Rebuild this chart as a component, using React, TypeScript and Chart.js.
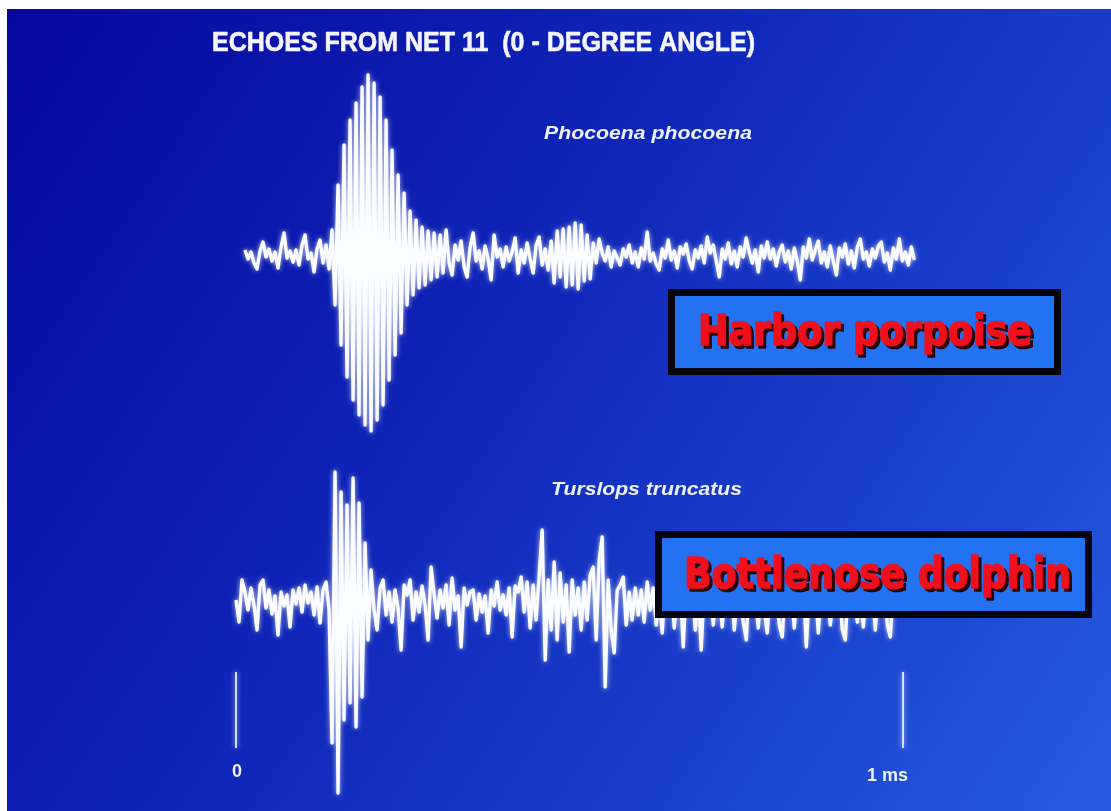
import React, { useEffect, useRef } from "react";
import { Chart, registerables } from "chart.js";

Chart.register(...registerables);

// ---- data (time in ms, amplitude in relative units) ----
const SAMPLE_INTERVAL_MS = 0.0045;
const UPPER_START_MS = 0.0135;
const LOWER_START_MS = 0;

// Phocoena phocoena (harbor porpoise) echo
const UPPER_AMPLITUDE = [
  5, -4, 3, -8, -14, 4, 13, -2, 6, -6, 3, -13, 8, 22, -3, 4, -7, 5, -10, 10,
  20, -4, 2, -17, 6, 15, -8, 10, -14,
  25, -50, 70, -90, 110, -122, 135, -145, 152, -160, 168, -170, 180, -176, 172, -165,
  158, -150, 135, -125, 105, -100, 80, -78, 62, -50, 44, -40, 35, -33, 28, -30, 24, -25, 22, -22, 20,
  -18, 25, -8, -20, 10, -5, 14, -12, -22, 8, 22, -6, 4, -14, 9, -4, -25, 20, -2, 6,
  -12, 8, -6, 3, 17, -18, 5, -8, 12, -4, -18, 10, 18, -10, 6, -15, 14, -28, 24, -22,
  26, -32, 28, -30, 32, -34, 30, -26, 20, -24, 12,
  -8, 16, 2, -6, 8, -12, 4, -3, -10, 6, -2, 10, -8, 3, -12, 7, -4, 23, -6, 2,
  -9, -15, 6, -3, 15, -5, 4, -13, 8, 1, 11, -6, -14, 5, -3, 9, -8, 18, 2, 10,
  -6, -22, 6, -4, 12, -9, 4, -12, 8, -2, 17, 3, -8, 5, -17, 9, -3, 13, -4, 6,
  -11, 3, 10, -7, 4, -14, 7, -6, -25, 8, -3, 16, -5, 5, 14, -8, 3, -12, 9, -6,
  -20, 7, -2, 11, -9, 4, -13, 8, 16, -4, 3, -11, 6, -3, 9, 13, -7, 2, -15, 7,
  -4, 16, -6, 3, -10, 8, -5,
];

// Tursiops truncatus (bottlenose dolphin) echo
const LOWER_AMPLITUDE = [
  0, -22, 20, 8, -10, 12, -5, -30, 15, 20, -8, 10, -14, 4, -35, 8, -6, 5, -27, 10,
  -4, 12, -12, 15, -3, 8, -15, 13, -23, 10, 18, -10,
  -143, 128, -193, 108, -120, 95, -103, 122, -127, 97, -97, 57, -40,
  30, -10, -30, 12, 20, -15, 8, -22, 10, -8, -50, 15, 5, 20, -20, 8, -12, 14, -5, -40,
  33, 6, -18, 10, -8, 15, -25, 22, -10, 4, -47, 12, -5, 8, 10, -20, 6, -12, 4, -33,
  10, -6, 18, -10, 5, -15, 12, -37, 14, 8, 23, -12, 18, -28, 15, -20, 25, 70, -60, 20,
  -30, 38, -40, 27, -22, 15, -52, 20, -15, 12, -30, 18, -20, 25, 33, -40, 40, 63, -87, 20,
  -30, -53, 10, 15, 23, -25, 8, -20, 12, -15,
  10, -22, 18, -10, 12, -25, 8, -33, 15, -8, 20, -28, 6, 12, -47, 14, -12, 22, -30, 8,
  -50, 18, -10, 15, -25, 10, 4, -27, 16, -8, 20, -30, 6, 12, -22, -40, 18, -6, 10, -28,
  14, -10, -33, 20, -8, 12, -25, -37, 16, -6, 10, -28, 14, -12, 22, -47, 10, -8, 15, -33,
  12, -6, 18, -25, 8, -10, 14, -30, -40, 16, -8, 10, -22, 12, -27, 18, -6, 10, -30, 14,
  -8, 20, -25, -37, 12, -10, 6,
];

// scale bar (time markers) in lower-axis units
const SCALE_BAR_TIMES = [0, 1];
const SCALE_BAR_LABELS = ["0", "1 ms"];
const SCALE_BAR_TOP = -72;
const SCALE_BAR_BOTTOM = -148;

const TITLE = "ECHOES FROM NET 11  (0 - DEGREE ANGLE)";
const UPPER_SPECIES = "Phocoena phocoena";
const LOWER_SPECIES = "Turslops truncatus";
const UPPER_NAME = "Harbor porpoise";
const LOWER_NAME = "Bottlenose dolphin";

const W = 1111;
const H = 811;

function fitText(
  ctx: CanvasRenderingContext2D,
  text: string,
  x: number,
  y: number,
  width: number,
  font: string,
  color: string,
  shadow?: { color: string; dx: number; dy: number },
  strokeW = 0
) {
  ctx.save();
  ctx.font = font;
  ctx.textAlign = "left";
  ctx.textBaseline = "middle";
  ctx.lineJoin = "round";
  const w = ctx.measureText(text).width;
  const sx = width / w;
  if (shadow) {
    ctx.save();
    ctx.translate(x + shadow.dx, y + shadow.dy);
    ctx.scale(sx, 1);
    ctx.fillStyle = shadow.color;
    ctx.fillText(text, 0, 0);
    if (strokeW) {
      ctx.strokeStyle = shadow.color;
      ctx.lineWidth = strokeW;
      ctx.strokeText(text, 0, 0);
    }
    ctx.restore();
  }
  ctx.translate(x, y);
  ctx.scale(sx, 1);
  ctx.fillStyle = color;
  ctx.fillText(text, 0, 0);
  if (strokeW) {
    ctx.strokeStyle = color;
    ctx.lineWidth = strokeW;
    ctx.strokeText(text, 0, 0);
  }
  ctx.restore();
}

function drawBox(
  ctx: CanvasRenderingContext2D,
  x0: number,
  y0: number,
  x1: number,
  y1: number
) {
  ctx.save();
  ctx.fillStyle = "#050510";
  ctx.fillRect(x0, y0, x1 - x0, y1 - y0);
  ctx.fillStyle = "#2272f2";
  ctx.fillRect(x0 + 7, y0 + 7, x1 - x0 - 14, y1 - y0 - 14);
  ctx.restore();
}

const backgroundPlugin = {
  id: "slideBackground",
  beforeDraw(chart: any) {
    const ctx: CanvasRenderingContext2D = chart.ctx;
    ctx.save();
    ctx.fillStyle = "#ffffff";
    ctx.fillRect(0, 0, W, H);
    const g = ctx.createLinearGradient(0, 0, W, H * 0.9);
    g.addColorStop(0, "#07079c");
    g.addColorStop(0.45, "#0f26b8");
    g.addColorStop(0.8, "#1c45cf");
    g.addColorStop(1, "#2659de");
    ctx.fillStyle = g;
    ctx.fillRect(7, 9, W - 7, H - 9);
    ctx.restore();
  },
  beforeDatasetsDraw(chart: any) {
    const ctx: CanvasRenderingContext2D = chart.ctx;
    ctx.save();
    ctx.shadowColor = "rgba(230,240,255,0.8)";
    ctx.shadowBlur = 5;
  },
  afterDatasetsDraw(chart: any) {
    chart.ctx.restore();
  },
};

const annotationPlugin = {
  id: "slideText",
  afterDraw(chart: any) {
    const ctx: CanvasRenderingContext2D = chart.ctx;
    const xs = chart.scales.x;
    fitText(ctx, TITLE, 212, 44, 543, "bold 27px 'Liberation Sans Narrow', 'Liberation Sans', Arial, sans-serif", "#f4f6ff", undefined, 0.6);
    fitText(ctx, UPPER_SPECIES, 544, 134, 208, "italic bold 19px 'Liberation Sans', Arial, sans-serif", "#eef2ff");
    fitText(ctx, LOWER_SPECIES, 551, 490, 191, "italic bold 19px 'Liberation Sans', Arial, sans-serif", "#eef2ff");

    drawBox(ctx, 668, 289, 1061, 375);
    drawBox(ctx, 655, 531, 1092, 618);
    const shadow = { color: "#2a0006", dx: 3, dy: 3 };
    fitText(ctx, UPPER_NAME, 698, 334, 334, "bold 42px 'DejaVu Sans', sans-serif", "#f0101c", shadow, 1.6);
    fitText(ctx, LOWER_NAME, 684, 577, 387, "bold 42px 'DejaVu Sans', sans-serif", "#f0101c", shadow, 1.6);

    ctx.save();
    ctx.font = "bold 18px 'Liberation Sans', Arial, sans-serif";
    ctx.fillStyle = "#eef2ff";
    ctx.textBaseline = "middle";
    ctx.textAlign = "center";
    const p0 = xs.getPixelForValue(SCALE_BAR_TIMES[0]);
    ctx.fillText(SCALE_BAR_LABELS[0], p0 + 1, 772);
    const p1 = xs.getPixelForValue(SCALE_BAR_TIMES[1]);
    ctx.textAlign = "left";
    ctx.fillText(SCALE_BAR_LABELS[1], p1 - 36, 776);
    ctx.restore();
  },
};

export default function App() {
  const ref = useRef<HTMLCanvasElement | null>(null);

  useEffect(() => {
    if (!ref.current) return;
    const upper = UPPER_AMPLITUDE.map((v, i) => ({ x: UPPER_START_MS + i * SAMPLE_INTERVAL_MS, y: v }));
    const lower = LOWER_AMPLITUDE.map((v, i) => ({ x: LOWER_START_MS + i * SAMPLE_INTERVAL_MS, y: v }));
    const bar: any[] = [];
    SCALE_BAR_TIMES.forEach((t, i) => {
      bar.push({ x: t, y: SCALE_BAR_TOP });
      bar.push({ x: t, y: SCALE_BAR_BOTTOM });
      if (i < SCALE_BAR_TIMES.length - 1) bar.push({ x: (t + SCALE_BAR_TIMES[i + 1]) / 2, y: null });
    });

    const chart = new Chart(ref.current, {
      type: "line",
      data: {
        datasets: [
          {
            label: UPPER_SPECIES,
            data: upper,
            yAxisID: "yTop",
            borderColor: "#fbfcff",
            borderWidth: 3.4,
            pointRadius: 0,
            tension: 0,
            borderJoinStyle: "round",
          },
          {
            label: LOWER_SPECIES,
            data: lower,
            yAxisID: "yBottom",
            borderColor: "#fbfcff",
            borderWidth: 3.4,
            pointRadius: 0,
            tension: 0,
            borderJoinStyle: "round",
          },
          {
            label: "scale",
            data: bar,
            yAxisID: "yBottom",
            borderColor: "rgba(215,228,255,0.95)",
            borderWidth: 2,
            pointRadius: 0,
            spanGaps: false,
          },
        ],
      } as any,
      options: {
        animation: false,
        responsive: false,
        maintainAspectRatio: false,
        events: [],
        layout: { padding: 0 },
        plugins: { legend: { display: false }, tooltip: { enabled: false }, title: { display: false } },
        scales: {
          x: { type: "linear", min: -236 / 667, max: 875 / 667, display: false },
          yTop: { type: "linear", min: -556, max: 255, display: false },
          yBottom: { type: "linear", min: -211, max: 600, display: false },
        },
      },
      plugins: [backgroundPlugin, annotationPlugin],
    });
    return () => chart.destroy();
  }, []);

  return (
    <div style={{ position: "fixed", left: 0, top: 0, width: W, height: H, background: "#fff" }}>
      <canvas ref={ref} width={W} height={H} style={{ display: "block", width: W, height: H }} />
    </div>
  );
}
